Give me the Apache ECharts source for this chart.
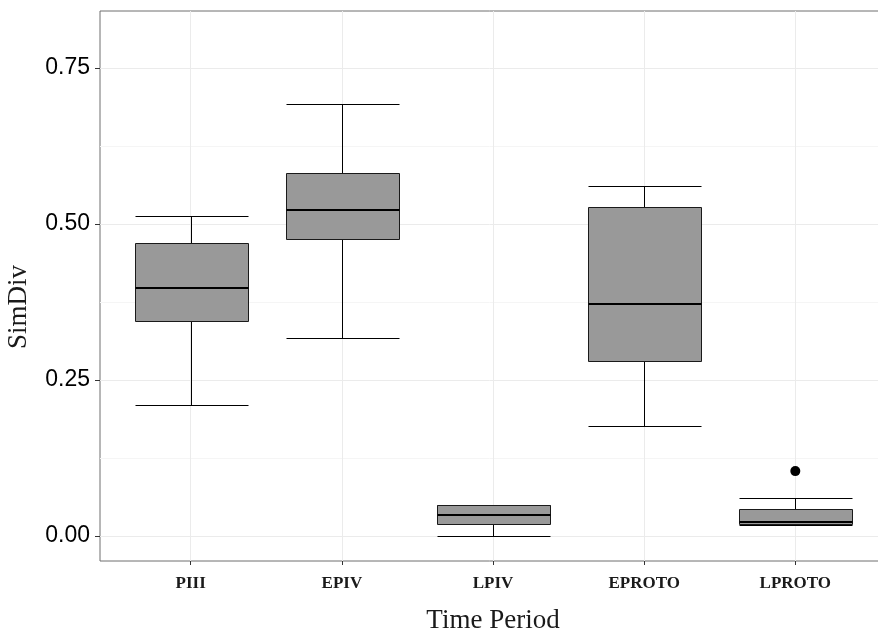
<html>
<head>
    <script src="https://cdn.jsdelivr.net/npm/echarts@6/dist/echarts.min.js"></script>
    <style>
        html, body { margin: 0; padding: 0; background: #fff; }
        #box { width: 878px; height: 634px; }
    </style>
</head>
<body>
    <div id="box"></div>
    <script>
        // values
        var categories = ['PIII', 'EPIV', 'LPIV', 'EPROTO', 'LPROTO'];
        var lowWhisker = [0.210, 0.317, 0.000, 0.176, 0.018];
        var lowerQuart = [0.345, 0.476, 0.019, 0.281, 0.0185];
        var medians = [0.397, 0.522, 0.033, 0.372, 0.023];
        var upperQuart = [0.470, 0.582, 0.049, 0.527, 0.044];
        var highWhisker = [0.513, 0.692, 0.050, 0.561, 0.061];
        var outlierCats = ['LPROTO'];
        var outlierValues = [0.104];
        var yTicks = [0, 0.25, 0.5, 0.75];
        var yMinorTicks = [0.125, 0.375, 0.625];

        var catPos = categories.map(function (c, i) { return i + 1; });

        var boxData = categories.map(function (c, i) {
            return [i + 1, lowWhisker[i], lowerQuart[i], medians[i], upperQuart[i], highWhisker[i]];
        });
        var outlierData = outlierCats.map(function (c, i) {
            return [categories.indexOf(c) + 1, outlierValues[i]];
        });

        function crisp(v) { return Math.round(v) + 0.5; }

        function renderBox(params, api) {
            var x = api.value(0);
            var half = api.size([0.75, 0])[0] / 2;
            var cx = crisp(api.coord([x, 0])[0]);
            var yMin = crisp(api.coord([x, api.value(1)])[1]);
            var yQ1 = crisp(api.coord([x, api.value(2)])[1]);
            var yMed = api.coord([x, api.value(3)])[1];
            var yQ3 = crisp(api.coord([x, api.value(4)])[1]);
            var yMax = crisp(api.coord([x, api.value(5)])[1]);
            var left = crisp(cx - half), right = crisp(cx + half);
            var line = { stroke: '#000', lineWidth: 1 };
            return {
                type: 'group',
                children: [
                    { type: 'line', shape: { x1: cx, y1: yQ3, x2: cx, y2: yMax }, style: line },
                    { type: 'line', shape: { x1: cx, y1: yQ1, x2: cx, y2: yMin }, style: line },
                    { type: 'line', shape: { x1: left, y1: yMax, x2: right, y2: yMax }, style: line },
                    { type: 'line', shape: { x1: left, y1: yMin, x2: right, y2: yMin }, style: line },
                    {
                        type: 'rect',
                        shape: { x: left, y: yQ3, width: right - left, height: yQ1 - yQ3 },
                        style: { fill: '#999999', stroke: '#1a1a1a', lineWidth: 1 }
                    },
                    { type: 'line', shape: { x1: left, y1: Math.round(yMed), x2: right, y2: Math.round(yMed) }, style: { stroke: '#000', lineWidth: 2 } }
                ]
            };
        }

        var myChart = echarts.init(document.getElementById('box'));
        var option = {
            animation: false,
            grid: {
                left: 100,
                top: 11,
                width: 786,
                height: 550,
                outerBoundsMode: 'none',
                containLabel: false,
                show: true,
                borderColor: '#6e6e6e',
                borderWidth: 1
            },
            // axis titles
            graphic: [{
                type: 'text',
                x: 19,
                y: 307,
                rotation: Math.PI / 2,
                style: {
                    text: 'SimDiv',
                    font: '27px "Liberation Serif"',
                    fill: '#1a1a1a',
                    align: 'center',
                    verticalAlign: 'middle'
                }
            }, {
                type: 'text',
                x: 493,
                y: 621,
                style: {
                    text: 'Time Period',
                    font: '27px "Liberation Serif"',
                    fill: '#1a1a1a',
                    align: 'center',
                    verticalAlign: 'middle'
                }
            }],
            xAxis: {
                type: 'value',
                min: 0.4,
                max: 5.6,
                axisLine: { show: false, onZero: false },
                axisTick: { customValues: catPos, length: 4, lineStyle: { color: '#333' } },
                axisLabel: {
                    customValues: catPos,
                    formatter: function (v) { return categories[Math.round(v) - 1]; },
                    fontFamily: 'Liberation Serif',
                    fontWeight: 'bold',
                    fontSize: 17,
                    color: '#1a1a1a',
                    margin: 9
                },
                splitLine: { show: true, lineStyle: { color: '#ebebeb', width: 1 } }
            },
            yAxis: [{
                type: 'value',
                min: -0.04,
                max: 0.841,
                axisLine: { show: false, onZero: false },
                axisTick: { customValues: yTicks, length: 5, lineStyle: { color: '#333' } },
                axisLabel: {
                    customValues: yTicks,
                    formatter: function (v) { return v.toFixed(2); },
                    fontFamily: 'Liberation Sans',
                    fontSize: 23,
                    color: '#000',
                    margin: 10
                },
                splitLine: { show: true, lineStyle: { color: '#ebebeb', width: 1 } }
            }, {
                type: 'value',
                position: 'left',
                min: -0.04,
                max: 0.841,
                axisLine: { show: false, onZero: false },
                axisTick: { show: false, customValues: yMinorTicks },
                axisLabel: { show: false },
                splitLine: { show: true, lineStyle: { color: '#f5f5f5', width: 1 } }
            }],
            series: [{
                type: 'custom',
                renderItem: renderBox,
                encode: { x: 0, y: [1, 2, 3, 4, 5] },
                data: boxData,
                z: 3
            }, {
                type: 'scatter',
                data: outlierData,
                symbolSize: 10,
                itemStyle: { color: '#000', opacity: 1 },
                z: 4
            }]
        };

        myChart.setOption(option);
        window.onresize = myChart.resize;
    </script>
</body>
</html>
